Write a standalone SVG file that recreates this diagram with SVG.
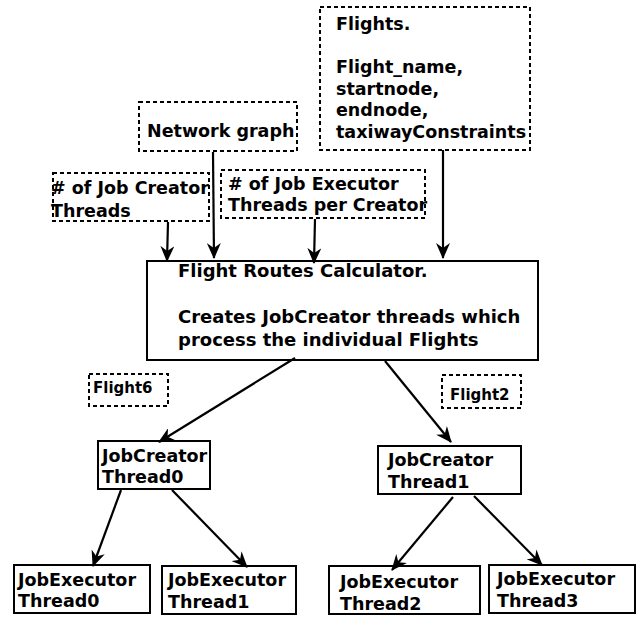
<svg xmlns="http://www.w3.org/2000/svg" width="636" height="617" viewBox="0 0 636 617">
<style>
text{font-family:"DejaVu Sans",sans-serif;font-weight:bold;font-size:17.5px;fill:#000}
.s{font-size:15px}
.d{fill:#fff;stroke:#000;stroke-width:2;stroke-dasharray:4,3}
.b{fill:#fff;stroke:#000;stroke-width:2}
.c{stroke:#000;stroke-width:2.2;fill:none;marker-end:url(#ah)}
</style>
<defs>
<marker id="ah" markerWidth="16" markerHeight="14" refX="15" refY="7" orient="auto" markerUnits="userSpaceOnUse" viewBox="0 0 16 14">
<path d="M0,0 L16,7 L0,14 L5,7 z" fill="#000"/>
</marker>
</defs>
<rect width="636" height="617" fill="#fff"/>
<g id="flights"><rect class="d" x="320" y="7" width="210" height="143"/>
<text x="336" y="30">Flights.</text><text x="336" y="73">Flight_name,</text><text x="336" y="94.5">startnode,</text><text x="336" y="116">endnode,</text><text x="336" y="137.5">taxiwayConstraints</text></g>
<g id="network"><rect class="d" x="139" y="102" width="158" height="49"/><text x="147" y="137">Network graph</text></g>
<g id="jobcreators"><rect class="d" x="53" y="173" width="156" height="48"/><text x="51" y="194">#<tspan> of Job Creator</tspan></text><text x="51" y="217">Threads</text></g>
<g id="jobexecutors"><rect class="d" x="221" y="170" width="204" height="48"/><text x="228" y="190">#<tspan> of Job Executor</tspan></text><text x="228" y="211">Threads per Creator</text></g>
<g id="calc"><rect class="b" x="147" y="261" width="391" height="99"/><text x="178" y="277" style="font-size:18px">Flight Routes Calculator.</text><text x="178" y="323" style="font-size:18px">Creates JobCreator threads which</text><text x="178" y="346" style="font-size:18px">process the individual Flights</text></g>
<g id="flight6"><rect class="d" x="89" y="374" width="79" height="32"/><text class="s" x="93" y="393">Flight6</text></g>
<g id="flight2"><rect class="d" x="442" y="375" width="79" height="33"/><text class="s" x="450" y="400">Flight2</text></g>
<g id="jc0"><rect class="b" x="98" y="441" width="112" height="48"/><text x="102" y="462">JobCreator</text><text x="102" y="483">Thread0</text></g>
<g id="jc1"><rect class="b" x="378" y="446" width="143" height="48"/><text x="388" y="466">JobCreator</text><text x="388" y="488">Thread1</text></g>
<g id="je0"><rect class="b" x="14" y="565" width="136" height="48"/><text x="18" y="586">JobExecutor</text><text x="18" y="607">Thread0</text></g>
<g id="je1"><rect class="b" x="162" y="566" width="134" height="48"/><text x="168" y="586">JobExecutor</text><text x="168" y="608">Thread1</text></g>
<g id="je2"><rect class="b" x="329" y="566" width="151" height="48"/><text x="340" y="588">JobExecutor</text><text x="340" y="610">Thread2</text></g>
<g id="je3"><rect class="b" x="489" y="565" width="146" height="48"/><text x="497" y="585">JobExecutor</text><text x="497" y="607">Thread3</text></g>
<g id="connectors">
<line class="c" x1="168" y1="222" x2="167" y2="261"/>
<line class="c" x1="213" y1="152" x2="214" y2="258"/>
<line class="c" x1="315" y1="219" x2="314" y2="263"/>
<line class="c" x1="443" y1="150" x2="443" y2="258"/>
<line class="c" x1="295" y1="358" x2="159" y2="442"/>
<line class="c" x1="385" y1="361" x2="451" y2="442"/>
<line class="c" x1="121" y1="490" x2="93" y2="566"/>
<line class="c" x1="172" y1="490" x2="247" y2="567"/>
<line class="c" x1="453" y1="497" x2="392" y2="570"/>
<line class="c" x1="474" y1="496" x2="542" y2="565"/>
</g>
</svg>
